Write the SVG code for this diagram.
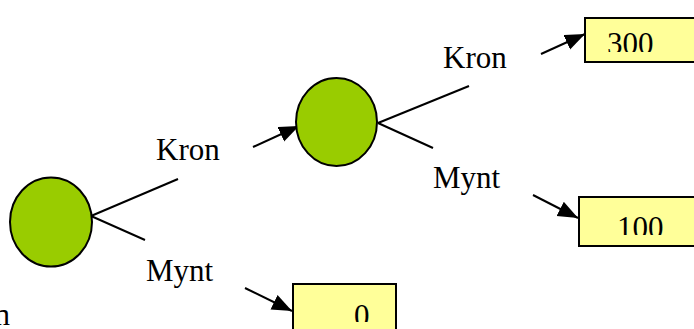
<svg xmlns="http://www.w3.org/2000/svg" width="694" height="329" viewBox="0 0 694 329">
<style>
.node{fill:#99CC00;stroke:#000;stroke-width:2}
.box{fill:#FFFF99;stroke:#000;stroke-width:2}
.ln{stroke:#000;stroke-width:2;fill:none}
.t{font-family:"Liberation Serif","Times New Roman",serif;font-size:31px;fill:#000}
</style>
<defs>
<marker id="ah" markerUnits="userSpaceOnUse" markerWidth="22" markerHeight="18" refX="20" refY="8" orient="auto">
<path d="M0,0 L20,8 L0,16 z" fill="#000"/>
</marker>
<clipPath id="c300"><rect x="585" y="18" width="120" height="34"/></clipPath>
<clipPath id="c100"><rect x="579" y="197" width="120" height="38"/></clipPath>
<clipPath id="c0"><rect x="293" y="284" width="103" height="38"/></clipPath>
</defs>
<g id="connectors">
<line class="ln" x1="91" y1="216" x2="178" y2="179"/>
<line class="ln" x1="91" y1="216" x2="145" y2="240"/>
<line class="ln" x1="253" y1="147" x2="299" y2="126" marker-end="url(#ah)"/>
<line class="ln" x1="378" y1="123" x2="469" y2="86"/>
<line class="ln" x1="378" y1="123" x2="433" y2="148"/>
<line class="ln" x1="541" y1="54" x2="585" y2="34" marker-end="url(#ah)"/>
<line class="ln" x1="533" y1="195" x2="578" y2="218" marker-end="url(#ah)"/>
<line class="ln" x1="245" y1="288" x2="292" y2="311" marker-end="url(#ah)"/>
</g>
<g id="labels">
<text class="t" x="156" y="160">Kron</text>
<text class="t" x="146" y="281">Mynt</text>
<text class="t" x="443" y="68">Kron</text>
<text class="t" x="433" y="188">Mynt</text>
<text class="t" x="10" y="325" text-anchor="end">n</text>
</g>
<g id="root"><ellipse class="node" cx="51" cy="222" rx="41" ry="44.5"/></g>
<g id="mid"><ellipse class="node" cx="336.5" cy="122" rx="40.5" ry="44"/></g>
<g id="leaf300"><rect class="box" x="585" y="18" width="120" height="44"/><text class="t" x="607" y="54" clip-path="url(#c300)">300</text></g>
<g id="leaf100"><rect class="box" x="579" y="197" width="120" height="49"/><text class="t" x="617" y="238" clip-path="url(#c100)">100</text></g>
<g id="leaf0"><rect class="box" x="293" y="284" width="103" height="60"/><text class="t" x="354" y="326" clip-path="url(#c0)">0</text></g>
</svg>
